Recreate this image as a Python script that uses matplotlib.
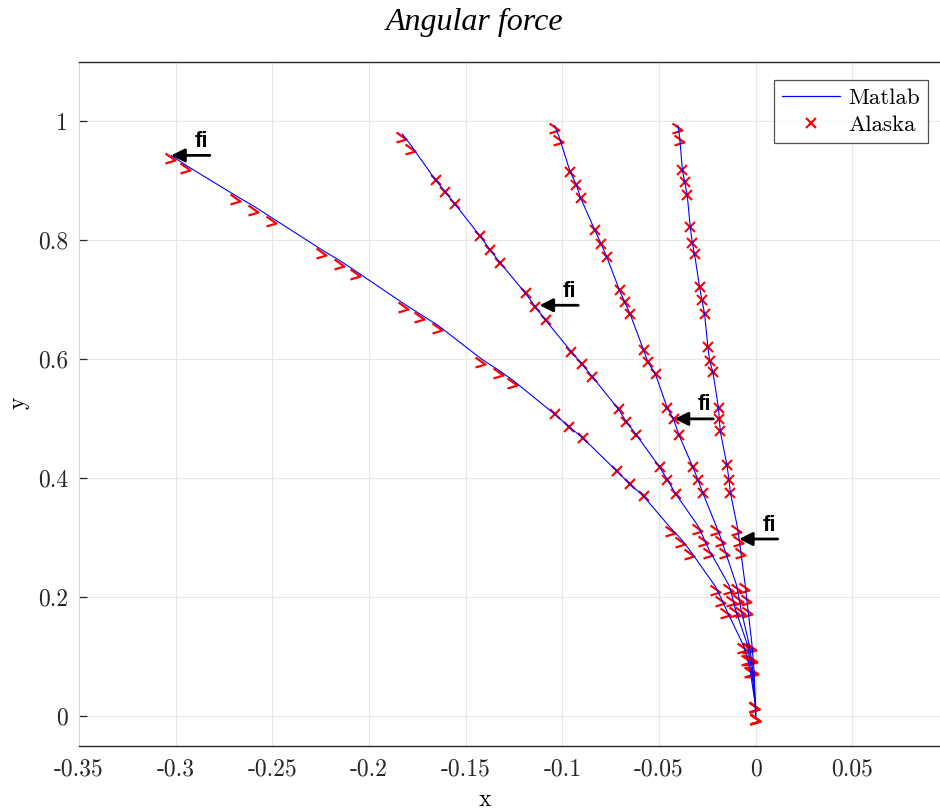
import numpy as np
import matplotlib
matplotlib.use("Agg")
import matplotlib.pyplot as plt
from matplotlib.path import Path
from matplotlib.patches import ArrowStyle
from matplotlib.lines import Line2D

# ---------------- data ----------------
title_text = "Angular force"
x_label = "x"
y_label = "y"
series_names = ["Matlab", "Alaska"]
force_label = "fi"

x_ticks = [-0.35, -0.3, -0.25, -0.2, -0.15, -0.1, -0.05, 0, 0.05]
x_tick_labels = ["-0.35", "-0.3", "-0.25", "-0.2", "-0.15", "-0.1", "-0.05", "0", "0.05"]
y_ticks = [0, 0.2, 0.4, 0.6, 0.8, 1]
y_tick_labels = ["0", "0.2", "0.4", "0.6", "0.8", "1"]

# beam 1 (load at tip)
beam1_x = [0, -0.0002, -0.0030, -0.0045, -0.0064, -0.0151, -0.0178, -0.0207,
           -0.0339, -0.0385, -0.0440, -0.0580, -0.0649, -0.0718, -0.0894, -0.0966,
           -0.1040, -0.1256, -0.1330, -0.1420, -0.1642, -0.1735, -0.1817, -0.2067,
           -0.2150, -0.2243, -0.2502, -0.2593, -0.2688, -0.2945, -0.3023]
beam1_y = [0, 0.020, 0.080, 0.0999, 0.1198, 0.1785, 0.1980, 0.2176,
           0.2785, 0.2975, 0.3165, 0.370, 0.390, 0.412, 0.468, 0.487,
           0.508, 0.565, 0.582, 0.601, 0.657, 0.676, 0.693, 0.748,
           0.766, 0.784, 0.838, 0.857, 0.875, 0.926, 0.943]

# beam 2 (load at s = 0.7)
beam2_x = [0, -0.0002, -0.0022, -0.0032, -0.0042, -0.0105, -0.0120, -0.0136,
           -0.0240, -0.0268, -0.0298, -0.0414, -0.0457, -0.0497, -0.0617, -0.0669,
           -0.0709, -0.0845, -0.0899, -0.0954, -0.1087, -0.1139, -0.1190, -0.1321,
           -0.1373, -0.1425, -0.1555, -0.1606, -0.1655, -0.1782, -0.1828]
beam2_y = [0, 0.020, 0.080, 0.0999, 0.1198, 0.1795, 0.1993, 0.2190,
           0.279, 0.299, 0.320, 0.374, 0.398, 0.419, 0.473, 0.495,
           0.516, 0.571, 0.592, 0.613, 0.666, 0.688, 0.711, 0.762,
           0.784, 0.807, 0.861, 0.882, 0.901, 0.9595, 0.979]

# beam 3 (load at s = 0.5)
beam3_x = [0, -0.0001, -0.0016, -0.0024, -0.0033, -0.0076, -0.0087, -0.0098,
           -0.0160, -0.0180, -0.0203, -0.0273, -0.0299, -0.0325, -0.0397, -0.0424,
           -0.0457, -0.0518, -0.0557, -0.0580, -0.0649, -0.0678, -0.0704, -0.0770,
           -0.0799, -0.0833, -0.0906, -0.0928, -0.0959, -0.1016, -0.1040]
beam3_y = [0, 0.020, 0.080, 0.100, 0.120, 0.180, 0.1998, 0.2196,
           0.2795, 0.2993, 0.319, 0.375, 0.398, 0.419, 0.473, 0.499,
           0.518, 0.575, 0.595, 0.616, 0.676, 0.697, 0.716, 0.772,
           0.794, 0.818, 0.872, 0.894, 0.915, 0.9735, 0.9933]

# beam 4 (load at s = 0.3)
beam4_x = [0, -0.0001, -0.0009, -0.0014, -0.0019, -0.0040, -0.0047, -0.0054,
           -0.0078, -0.0086, -0.0095, -0.0131, -0.0138, -0.0149, -0.0183, -0.0188,
           -0.0192, -0.0221, -0.0238, -0.0247, -0.0264, -0.0278, -0.0290, -0.0316,
           -0.0328, -0.0338, -0.0354, -0.0367, -0.0379, -0.0393, -0.0402]
beam4_y = [0, 0.020, 0.080, 0.100, 0.120, 0.180, 0.200, 0.220,
           0.280, 0.2995, 0.319, 0.376, 0.398, 0.423, 0.479, 0.499,
           0.518, 0.578, 0.598, 0.620, 0.676, 0.700, 0.721, 0.777,
           0.796, 0.822, 0.876, 0.898, 0.918, 0.9735, 0.9933]

# points where the force acts
force_x = [-0.3023, -0.1118, -0.0419, -0.0086]
force_y = [0.943, 0.691, 0.500, 0.298]

beams_x = [beam1_x, beam2_x, beam3_x, beam4_x]
beams_y = [beam1_y, beam2_y, beam3_y, beam4_y]

# ---------------- style ----------------
# index ranges (per beam) of markers drawn as a clean "x"; others show the distorted glyph
cross_ranges = [(11, 17), (11, 29), (11, 29), (11, 29)]

W, H, DPI = 940, 811, 100
fig = plt.figure(figsize=(W / DPI, H / DPI), dpi=DPI)
ax = fig.add_axes([79 / W, 1 - 746 / H, (949 - 79) / W, (746 - 62) / H])

CM = ["cmr10", "DejaVu Serif"]
plt.rcParams["axes.unicode_minus"] = False

glyph = Path([(-6, 2), (4, -5), (-6, -8)],
             [Path.MOVETO, Path.LINETO, Path.LINETO])

red = "#ff0000"
blue = "#0000ff"

for bx, by, (a, b) in zip(beams_x, beams_y, cross_ranges):
    bx = np.asarray(bx)
    by = np.asarray(by)
    m = np.zeros(len(bx), dtype=bool)
    m[a:b] = True
    ax.plot(bx[m], by[m], ls="none", marker="x", ms=7.6, mew=1.5,
            color=red, zorder=2)
    ax.plot(bx[~m], by[~m], ls="none", marker=glyph, ms=11.5, mew=1.6,
            color=red, markerfacecolor="none", zorder=2)
    ax.plot(bx, by, color=blue, lw=0.8, zorder=3)

for fx, fy in zip(force_x, force_y):
    ax.annotate("", xy=(fx, fy), xytext=(38.7, 0), textcoords="offset pixels",
                arrowprops=dict(arrowstyle=ArrowStyle("-|>", head_length=0.4, head_width=0.2),
                                mutation_scale=20, lw=2, color="black",
                                shrinkA=0, shrinkB=0), zorder=5)
    ax.annotate(force_label, xy=(fx, fy), xytext=(30, 14), textcoords="offset pixels",
                ha="center", va="center", fontsize=16, fontweight="bold",
                family=["Liberation Sans", "DejaVu Sans"], zorder=5)

ax.set_xlim(-0.35, 0.1)
ax.set_ylim(-0.05, 1.1)
ax.set_xticks(x_ticks)
ax.set_xticklabels(x_tick_labels, family=CM, fontsize=17)
ax.set_yticks(y_ticks)
ax.set_yticklabels(y_tick_labels, family=CM, fontsize=17)
ax.tick_params(axis="x", length=0, pad=9, colors="#262626")
ax.tick_params(axis="y", direction="in", length=6, width=0.9, pad=8, colors="#262626")

ax.grid(True, color="#e6e6e6", lw=0.8)
ax.set_axisbelow(True)
for sp in ["top", "bottom"]:
    ax.spines[sp].set_color("#262626")
    ax.spines[sp].set_linewidth(1.0)
ax.spines["left"].set_color("#d9d9d9")
ax.spines["left"].set_linewidth(0.8)
ax.spines["right"].set_visible(False)

handles = [Line2D([], [], color=blue, lw=0.9),
           Line2D([], [], ls="none", marker="x", ms=7.6, mew=1.5, color=red)]
leg = ax.legend(handles, series_names, loc="upper right",
                bbox_to_anchor=(928 / W, 1 - 80 / H), bbox_transform=fig.transFigure,
                borderaxespad=0, prop={"family": CM, "size": 16.5}, fancybox=False,
                frameon=True, handlelength=2.55, handletextpad=0.35,
                borderpad=0.35, labelspacing=0.3)
leg.get_frame().set_edgecolor("#262626")
leg.get_frame().set_linewidth(0.9)

fig.text(475 / W, 1 - 22 / H, title_text, ha="center", va="center",
         fontsize=23, style="italic", family=["Liberation Serif", "DejaVu Serif"])
fig.text(485 / W, 1 - 800 / H, x_label, ha="center", va="center", fontsize=17, family=CM)
fig.text(18 / W, 1 - 403 / H, y_label, ha="center", va="center", fontsize=17,
         family=CM, rotation=90)

fig.savefig("out.png", dpi=DPI, facecolor="white")
